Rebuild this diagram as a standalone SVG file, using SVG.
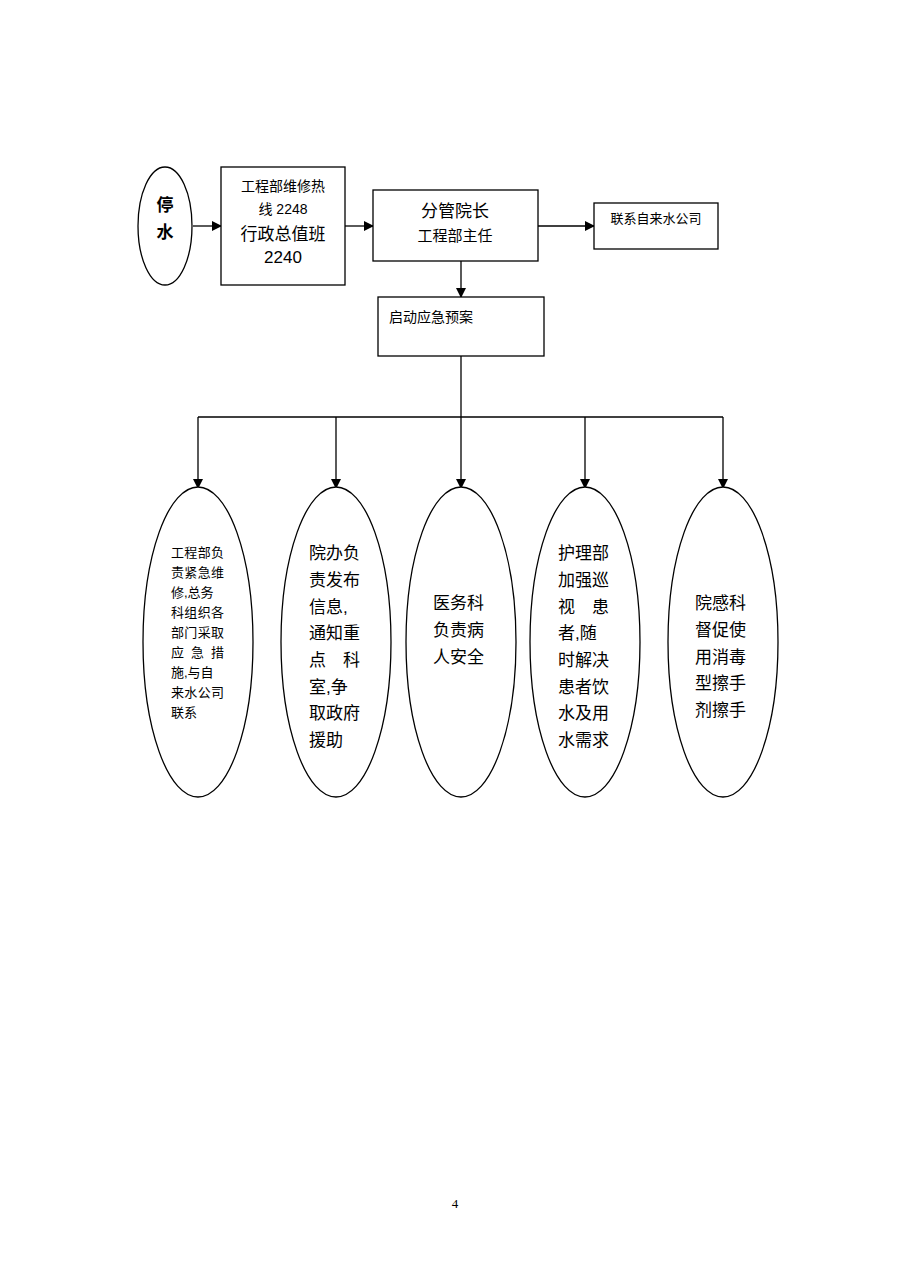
<svg xmlns="http://www.w3.org/2000/svg" width="910" height="1287" viewBox="0 0 910 1287">
<defs>
<style>
.s{fill:#fff;stroke:#000;stroke-width:1.3}
.c{stroke:#000;stroke-width:1.3;fill:none}
text{font-family:"Liberation Sans","Noto Sans CJK SC",sans-serif;fill:#000}
.a{font-size:13px}.b{font-size:17px}
</style>
<marker id="m" markerWidth="10" markerHeight="10" refX="9" refY="5" orient="auto" markerUnits="userSpaceOnUse"><path d="M0,0L10,5L0,10z" fill="#000"/></marker>
</defs>
<rect width="910" height="1287" fill="#fff"/>
<g id="connectors">
<line class="c" x1="193" y1="226" x2="221" y2="226" marker-end="url(#m)"/>
<line class="c" x1="345" y1="226" x2="373" y2="226" marker-end="url(#m)"/>
<line class="c" x1="538" y1="226" x2="594" y2="226" marker-end="url(#m)"/>
<line class="c" x1="461" y1="261" x2="461" y2="297" marker-end="url(#m)"/>
<polyline class="c" points="461,356 461,417"/>
<line class="c" x1="198" y1="417" x2="723" y2="417"/>
<line class="c" x1="198" y1="417" x2="198" y2="488" marker-end="url(#m)"/>
<line class="c" x1="336" y1="417" x2="336" y2="488" marker-end="url(#m)"/>
<line class="c" x1="461" y1="417" x2="461" y2="488" marker-end="url(#m)"/>
<line class="c" x1="585" y1="417" x2="585" y2="488" marker-end="url(#m)"/>
<line class="c" x1="723" y1="417" x2="723" y2="488" marker-end="url(#m)"/>
</g>
<g id="n0"><ellipse class="s" cx="165" cy="226" rx="27" ry="59"/>
<text x="165" y="211" class="b" font-weight="bold" text-anchor="middle">停</text>
<text x="165" y="238" class="b" font-weight="bold" text-anchor="middle">水</text></g>
<g id="n1"><rect class="s" x="221" y="167" width="124" height="118"/>
<text x="283" y="191" font-size="14" text-anchor="middle">工程部维修热</text>
<text x="283" y="214" font-size="14" text-anchor="middle">线 2248</text>
<text x="283" y="240" class="b" text-anchor="middle">行政总值班</text>
<text x="283" y="263" class="b" text-anchor="middle">2240</text></g>
<g id="n2"><rect class="s" x="373" y="190" width="165" height="71"/>
<text x="455" y="217" class="b" text-anchor="middle">分管院长</text>
<text x="455" y="241" font-size="15" text-anchor="middle">工程部主任</text></g>
<g id="n3"><rect class="s" x="594" y="203" width="124" height="46"/>
<text x="656" y="223" class="a" text-anchor="middle">联系自来水公司</text></g>
<g id="n4"><rect class="s" x="378" y="297" width="166" height="59"/>
<text x="389" y="322" font-size="14">启动应急预案</text></g>
<g id="e1"><ellipse class="s" cx="198" cy="642" rx="55" ry="155"/>
<g class="a"><text x="171" y="557" textLength="53" lengthAdjust="spacing">工程部负</text><text x="171" y="577" textLength="53" lengthAdjust="spacing">责紧急维</text><text x="171" y="597">修,总务</text><text x="171" y="617" textLength="53" lengthAdjust="spacing">科组织各</text><text x="171" y="637" textLength="53" lengthAdjust="spacing">部门采取</text><text x="171" y="657" textLength="53" lengthAdjust="spacing">应急措</text><text x="171" y="677">施,与自</text><text x="171" y="697" textLength="53" lengthAdjust="spacing">来水公司</text><text x="171" y="717">联系</text></g></g>
<g id="e2"><ellipse class="s" cx="336" cy="642" rx="55" ry="155"/>
<g class="b"><text x="309" y="559">院办负</text><text x="309" y="586">责发布</text><text x="309" y="613">信息,</text><text x="309" y="639">通知重</text><text x="309" y="666" textLength="51" lengthAdjust="spacing">点科</text><text x="309" y="693">室,争</text><text x="309" y="719">取政府</text><text x="309" y="746">援助</text></g></g>
<g id="e3"><ellipse class="s" cx="461" cy="642" rx="55" ry="155"/>
<g class="b"><text x="433" y="609">医务科</text><text x="433" y="636">负责病</text><text x="433" y="663">人安全</text></g></g>
<g id="e4"><ellipse class="s" cx="585" cy="642" rx="55" ry="155"/>
<g class="b"><text x="558" y="559">护理部</text><text x="558" y="586">加强巡</text><text x="558" y="613" textLength="51" lengthAdjust="spacing">视患</text><text x="558" y="639">者,随</text><text x="558" y="666">时解决</text><text x="558" y="693">患者饮</text><text x="558" y="719">水及用</text><text x="558" y="746">水需求</text></g></g>
<g id="e5"><ellipse class="s" cx="723" cy="642" rx="55" ry="155"/>
<g class="b"><text x="695" y="609">院感科</text><text x="695" y="636">督促使</text><text x="695" y="663">用消毒</text><text x="695" y="689">型擦手</text><text x="695" y="716">剂擦手</text></g></g>
<text x="455" y="1208" font-size="13" text-anchor="middle" style="font-family:'Liberation Serif',serif">4</text>
</svg>
